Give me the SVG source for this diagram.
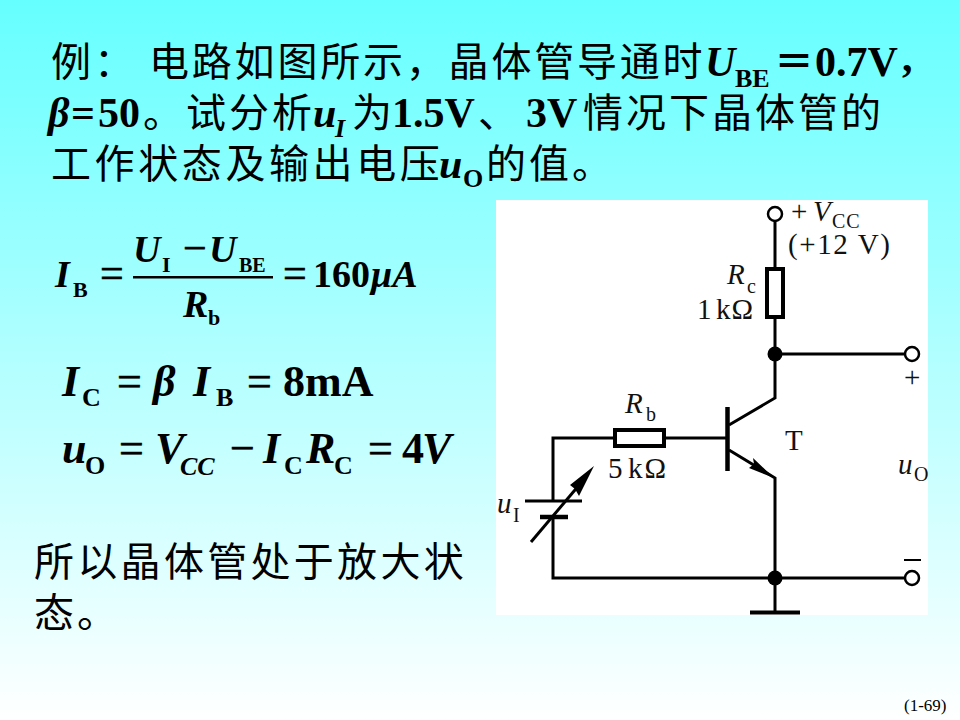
<svg xmlns="http://www.w3.org/2000/svg" width="960" height="720" viewBox="0 0 960 720">
<defs>
<linearGradient id="bg" x1="0" y1="0" x2="0" y2="1"><stop offset="0" stop-color="#66ffff"/><stop offset="1" stop-color="#ffffff"/></linearGradient>
</defs>
<style>
.cn{font-family:"Noto Sans CJK SC","Noto Sans",sans-serif;font-size:40px;fill:#000;letter-spacing:3px}
.m{font-family:"Liberation Serif",serif;font-weight:bold;fill:#000;font-size:42px}
.e{font-size:38px}
.b{font-size:44px}
.op{font-weight:normal;stroke:#000;stroke-width:0.6}
.i{font-style:italic}
.s{font-size:26px}
.t{font-size:22px}
.c{font-family:"Liberation Serif",serif;fill:#111;font-size:29px}
.cs{font-size:20px}
.w{fill:none;stroke:#000;stroke-width:3}
.d{fill:#000}
.o{fill:#fff;stroke:#000;stroke-width:2.5}
.r{fill:#fff;stroke:#000;stroke-width:4}
</style>
<rect width="960" height="720" fill="url(#bg)"/>
<g id="problem">
<text class="cn" x="51" y="76">例：</text>
<text class="cn" x="149" y="76" style="letter-spacing:2.8px">电路如图所示，晶体管导通时</text>
<text class="m i" x="705" y="76">U</text><text class="m s" x="735" y="87">BE</text>
<text class="cn" x="774" y="76" style="font-weight:700">＝</text><text class="m" x="815" y="76">0.7V</text><text class="m" x="902" y="71">,</text>
<text class="m i" x="48" y="127">β</text><text class="m" x="71" y="127">=</text><text class="m" x="98" y="127">50</text>
<text class="cn" x="143" y="127">。试分析</text>
<text class="m i" x="313" y="127">u</text><text class="m i s" x="335" y="137">I</text>
<text class="cn" x="352" y="127">为</text>
<text class="m" x="392" y="127">1.5V</text>
<text class="cn" x="478" y="127">、</text>
<text class="m" x="526" y="127">3V</text>
<text class="cn" x="583" y="127">情况下晶体管的</text>
<text class="cn" x="51" y="178" style="letter-spacing:3.6px">工作状态及输出电压</text>
<text class="m i" x="439" y="178">u</text><text class="m s" x="463" y="187">O</text>
<text class="cn" x="486" y="178">的值。</text>
</g>
<g id="equations">
<text class="m i e" x="55" y="287">I</text><text class="m t" x="73" y="297">B</text>
<text class="m op" x="100" y="287">=</text>
<text class="m i e" x="133" y="262">U</text><text class="m t" x="162" y="272">I</text>
<text class="m op" x="183" y="262">−</text>
<text class="m i e" x="209" y="262">U</text><text class="m t" x="239" y="272" style="font-size:20px">BE</text>
<rect x="133" y="276" width="140" height="2.5" fill="#000"/>
<text class="m i e" x="183" y="317">R</text><text class="m t" x="208" y="325">b</text>
<text class="m op" x="283" y="287">=</text><text class="m e" x="313" y="287">160</text>
<text class="m i e" x="371" y="287">μA</text>

<text class="m i b" x="62" y="396">I</text><text class="m s" x="82" y="406">C</text>
<text class="m op b" x="117" y="396">=</text>
<text class="m i b" x="153" y="396">β</text>
<text class="m i b" x="193" y="396">I</text><text class="m s" x="216" y="406">B</text>
<text class="m op b" x="247" y="396">=</text>
<text class="m b" x="283" y="396">8mA</text>

<text class="m i b" x="62" y="463">u</text><text class="m s" x="85" y="474">O</text>
<text class="m op b" x="119" y="463">=</text>
<text class="m i b" x="155" y="463">V</text>
<text class="m i s" x="180" y="475">CC</text>
<text class="m op b" x="230" y="463">−</text>
<text class="m i b" x="263" y="463">I</text><text class="m s" x="284" y="474">C</text>
<text class="m i b" x="306" y="463">R</text><text class="m s" x="334" y="474">C</text>
<text class="m op b" x="368" y="463">=</text>
<text class="m b" x="402" y="463">4</text><text class="m i b" x="422" y="463">V</text>
</g>
<g id="conclusion">
<text class="cn" x="34" y="576" style="letter-spacing:3.3px">所以晶体管处于放大状</text>
<text class="cn" x="34" y="627">态。</text>
</g>
<g id="figure-bg"><rect x="496" y="200" width="432" height="415" fill="#fff"/></g>
<g id="connectors">
<path class="w" d="M775 221V268M775 318V398L729 425M729 450L775 478V578M775 354H904M775 578H904M775 578V611"/>
<path class="w" d="M553 517V578H775M553 501V438H615M664 438H727"/>
</g>
<g id="vcc"><circle class="o" cx="775" cy="214" r="7"/>
<text class="c" x="791" y="221">+</text><text class="c" x="813" y="221" font-style="italic">V</text><text class="c cs" x="832" y="228" letter-spacing="1">CC</text>
<text class="c" x="788" y="254" letter-spacing="1.6">(+12 V)</text></g>
<g id="Rc"><rect class="r" x="767" y="269" width="16" height="48"/>
<text class="c" x="727" y="284" font-style="italic">R</text><text class="c cs" x="747" y="293">c</text>
<text class="c" x="697" y="319">1</text><text class="c" x="716" y="319" letter-spacing="1">kΩ</text></g>
<g id="node-c"><circle class="d" cx="775" cy="354" r="7.5"/></g>
<g id="out-plus"><circle class="o" cx="912" cy="354" r="7"/><text class="c" x="904" y="387">+</text></g>
<g id="Rb"><rect class="r" x="615" y="430" width="49" height="16"/>
<text class="c" x="625" y="413" font-style="italic">R</text><text class="c cs" x="646" y="421">b</text>
<text class="c" x="608" y="478">5</text><text class="c" x="628" y="478" letter-spacing="2">kΩ</text></g>
<g id="T"><path d="M727.5 407V471" stroke="#000" stroke-width="4.5" fill="none"/>
<path d="M753 458L774 478L749 468L754 464Z" fill="#000"/>
<text class="c" x="785" y="450">T</text></g>
<g id="uO"><text class="c" x="898" y="474" font-style="italic">u</text><text class="c cs" x="914" y="481">O</text></g>
<g id="source">
<path d="M525 501H582" stroke="#000" stroke-width="3"/><path d="M540 517H568" stroke="#000" stroke-width="4.5"/>
<path d="M531 542L580 484" stroke="#000" stroke-width="3"/>
<path d="M594 466L579 496L575 489L570 485Z" fill="#000"/>
<text class="c" x="497" y="513" font-style="italic">u</text><text class="c cs" x="513" y="522">I</text></g>
<g id="node-g"><circle class="d" cx="775" cy="578" r="7.5"/></g>
<g id="out-minus"><circle class="o" cx="912" cy="578" r="7"/><path d="M904 560H921" stroke="#000" stroke-width="2"/></g>
<g id="ground"><path d="M750 612.5H800" stroke="#000" stroke-width="4"/></g>
<text x="904" y="711" font-family="Liberation Serif,serif" font-size="17" fill="#000">(1-69)</text>
</svg>
